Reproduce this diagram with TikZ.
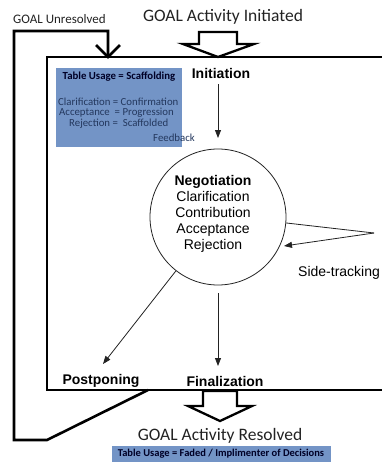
\documentclass[tikz,border=0pt]{standalone}
\usepackage{fontspec}
\setmainfont{Carlito}
\newfontfamily\arialf{Liberation Sans}
\usetikzlibrary{arrows.meta}
\definecolor{boxblue}{HTML}{7394C6}
\definecolor{boxtxt}{HTML}{24385E}
\definecolor{ink}{HTML}{222222}
\tikzset{
  thick line/.style={line width=2.6pt, black, line join=miter},
  blockarrow/.style={line width=2.3pt, black, fill=white, line join=miter},
  thinarrow/.style={line width=0.8pt, draw=ink, -{Triangle[length=8pt,width=6pt]}},
  thinline/.style={line width=0.8pt, draw=ink},
  calib/.style={inner sep=0pt, text=ink},
  stagelabel/.style={inner sep=0pt, font=\arialf\bfseries\fontsize{14}{16}\selectfont},
  bluebox/.style={fill=boxblue, draw=none},
  boxline/.style={inner sep=0pt, anchor=west, text=boxtxt, font=\fontsize{10.8}{12}\selectfont}
}
\begin{document}
\begin{tikzpicture}[x=1pt,y=-1pt]
\useasboundingbox (0,0) rectangle (382,464);
% outer box (right side runs off the picture)
\draw[thick line] (382,57) -- (47,57) -- (47,390) -- (382,390);
% feedback loop
\coordinate (loopA) at (148,390);
\coordinate (loopB) at (47,440);
\coordinate (loopC) at (14,440);
\coordinate (loopD) at (14,31);
\coordinate (loopE) at (108,31);
\coordinate (loopF) at (108,57);
\draw[thick line] (loopA) -- (loopB) -- (loopC) -- (loopD) -- (loopE) -- (loopF);
\draw[thick line] (96,45) -- (loopF) -- (120,45);
% top block arrow
\draw[blockarrow] (199,32) -- (237,32) -- (237,44) -- (254,44) -- (218,57) -- (183,44) -- (199,44) -- cycle;
% bottom block arrow
\draw[blockarrow] (203,391) -- (237,391) -- (237,406) -- (252,406) -- (220,421) -- (188,406) -- (203,406) -- cycle;
% titles
\node[calib, anchor=west, font=\fontsize{13}{15}\selectfont] (unres) at (13,19) {GOAL Unresolved};
\node[calib, font=\fontsize{17.5}{20}\selectfont] (init0) at (223,17) {GOAL Activity Initiated};
\node[calib, font=\fontsize{17.5}{20}\selectfont] (resolved) at (220,436) {GOAL Activity Resolved};
% blue scaffolding box
\fill[bluebox] (56,68) rectangle (182,147);
\node[inner sep=0pt, text=black!85!blue, font=\bfseries\fontsize{10.8}{12}\selectfont] (tbltitle) at (119,77) {Table Usage = Scaffolding};
\node[boxline] (b1) at (58,102) {Clarification = Confirmation};
\node[boxline] (b2) at (59,113) {Acceptance\ \ = Progression};
\node[boxline] (b3) at (69,124) {Rejection =\ \ Scaffolded};
\node[boxline] (b4) at (153,138) {Feedback};
% bottom band
\fill[bluebox] (112,446) rectangle (331,462);
\node[inner sep=0pt, text=black!85!blue, font=\bfseries\fontsize{10.5}{12}\selectfont] (band) at (221,454) {Table Usage = Faded / Implimenter of Decisions};
% stages
\node[stagelabel] (init) at (221,73) {Initiation};
\node[circle, draw=ink, line width=0.8pt, minimum size=136pt, inner sep=0pt] (neg) at (218,217) {};
\node[inner sep=0pt, align=center, font=\arialf\fontsize{14}{16}\selectfont] (negtext) at (213,214) {\textbf{Negotiation}\\Clarification\\Contribution\\Acceptance\\Rejection};
\node[stagelabel] (post) at (101,381) {Postponing};
\node[stagelabel] (fin) at (225,381) {Finalization};
\node[inner sep=0pt, anchor=west, font=\arialf\fontsize{14}{16}\selectfont] (side) at (298,273) {Side-tracking};
\coordinate (sidept) at (374,233);
% connectors
\draw[thinarrow] (218,84) -- (218,138);
\draw[thinline] (neg.-5) -- (sidept);
\draw[thinarrow] (sidept) -- (284,246);
\draw[thinarrow] (neg.-128) -- (103,364);
\draw[thinarrow] (218,293) -- (218,366);
\end{tikzpicture}
\end{document}
